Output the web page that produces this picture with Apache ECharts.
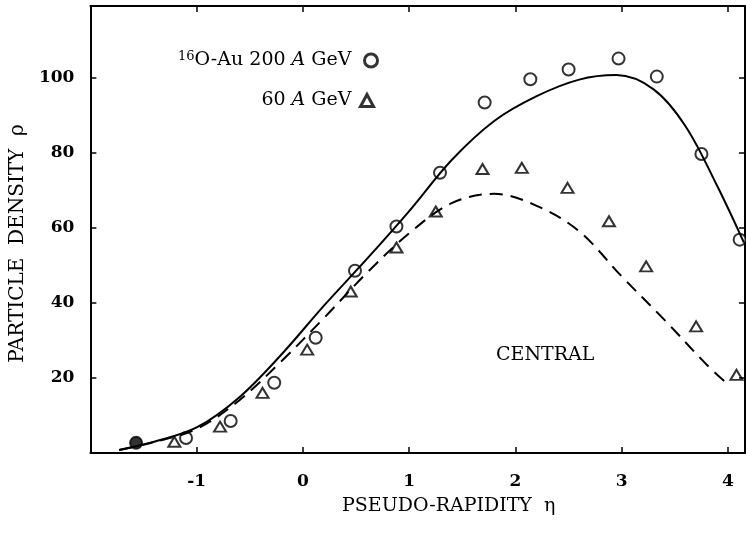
<!DOCTYPE html>
<html>
<head>
    <meta charset="UTF-8">
    <title>Particle density vs pseudo-rapidity</title>
    <style>
        html, body { margin: 0; padding: 0; background: #fff; }
        #container { width: 746px; height: 539px; }
    </style>
</head>
<body>
    <div id="container"></div>
    <script src="https://cdn.jsdelivr.net/npm/echarts@6/dist/echarts.min.js"></script>
    <script>
        // 16O-Au 200 A GeV (circles)
        var pts200 = [
            [-1.57, 2.7], [-1.10, 4.0], [-0.68, 8.5], [-0.27, 18.7], [0.12, 30.7],
            [0.49, 48.5], [0.88, 60.3], [1.29, 74.6], [1.71, 93.3], [2.14, 99.5],
            [2.50, 102.1], [2.97, 105.0], [3.33, 100.2], [3.75, 79.6], [4.11, 56.8]
        ];
        // 60 A GeV (triangles)
        var pts60 = [
            [-1.21, 3.0], [-0.78, 7.0], [-0.38, 16.0], [0.04, 27.5], [0.45, 43.0],
            [0.88, 54.7], [1.25, 64.3], [1.69, 75.6], [2.06, 75.9], [2.49, 70.6],
            [2.88, 61.7], [3.23, 49.7], [3.70, 33.7], [4.08, 20.8]
        ];
        // fitted curves
        var curve200 = [
            [-1.73, 0.8], [-1.4, 3.0], [-1.0, 6.8], [-0.6, 14.8], [-0.2, 26.3],
            [0.2, 39.3], [0.6, 51.6], [1.0, 64.4], [1.4, 78.0], [1.8, 88.4],
            [2.2, 95.0], [2.6, 99.4], [2.95, 100.6], [3.3, 96.8], [3.6, 87.0],
            [3.9, 71.0], [4.15, 56.0]
        ];
        var curve60 = [
            [-1.73, 0.8], [-1.4, 2.9], [-1.0, 6.4], [-0.6, 14.0], [-0.2, 24.5],
            [0.2, 36.0], [0.6, 47.9], [1.0, 58.5], [1.4, 66.5], [1.8, 69.0],
            [2.2, 65.8], [2.6, 59.0], [3.0, 47.0], [3.4, 35.5], [3.8, 23.5],
            [3.99, 18.5]
        ];
        var name200 = '200';
        var name60 = '60';

        var serif = "'DejaVu Serif', 'Liberation Serif', serif";

        var myChart = echarts.init(document.getElementById('container'));

        var xBase = {
            type: 'value', min: -2, max: 4.16, interval: 1,
            axisLine: { onZero: false, lineStyle: { color: '#000', width: 2 } },
            axisTick: { inside: true, length: 6, lineStyle: { color: '#000', width: 1.5 } },
            splitLine: { show: false }
        };
        var yBase = {
            type: 'value', min: 0, max: 119, interval: 20,
            axisLine: { show: true, onZero: false, lineStyle: { color: '#000', width: 2 } },
            axisTick: { show: true, inside: true, length: 6, lineStyle: { color: '#000', width: 1.5 } },
            splitLine: { show: false }
        };

        myChart.setOption({
            animation: false,
            grid: { left: 88, right: 1, top: 6, bottom: 86 },
            xAxis: [
                Object.assign({}, xBase, {
                    position: 'bottom',
                    name: 'PSEUDO-RAPIDITY  η',
                    nameLocation: 'middle',
                    nameGap: 44,
                    nameTextStyle: { fontFamily: serif, fontSize: 19, color: '#000', padding: [0, 0, 0, 62] },
                    axisLabel: {
                        margin: 20, fontFamily: serif, fontSize: 17, fontWeight: 'bold', color: '#000',
                        showMinLabel: false, showMaxLabel: false
                    }
                }),
                Object.assign({}, xBase, { position: 'top', axisLabel: { show: false } })
            ],
            yAxis: [
                Object.assign({}, yBase, {
                    position: 'left',
                    name: 'PARTICLE  DENSITY  ρ',
                    nameLocation: 'middle',
                    nameGap: 56,
                    nameTextStyle: { fontFamily: serif, fontSize: 20, color: '#000', padding: [0, 28, 0, 0] },
                    axisLabel: {
                        margin: 16, fontFamily: serif, fontSize: 17, fontWeight: 'bold', color: '#000',
                        showMinLabel: false, showMaxLabel: false
                    }
                }),
                Object.assign({}, yBase, { position: 'right', axisLabel: { show: false } })
            ],
            legend: [
                {
                    data: [name200], right: 367, top: 50, padding: 0, align: 'right',
                    icon: 'circle', itemWidth: 13, itemHeight: 13,
                    itemStyle: { color: '#fff', borderColor: '#000', borderWidth: 3 },
                    formatter: function () { return '{sup|16}{n|O-Au 200 }{i|A}{n| GeV}'; },
                    textStyle: {
                        padding: [0, 8, 0, 0],
                        rich: {
                            sup: { fontFamily: serif, fontSize: 13, color: '#000', padding: [0, 0, 8, 0] },
                            n: { fontFamily: serif, fontSize: 19, color: '#000' },
                            i: { fontFamily: serif, fontSize: 19, color: '#000', fontStyle: 'italic' }
                        }
                    }
                },
                {
                    data: [name60], right: 371, top: 91, padding: 0, align: 'right',
                    icon: 'triangle', itemWidth: 13, itemHeight: 12,
                    itemStyle: { color: '#fff', borderColor: '#000', borderWidth: 3 },
                    formatter: function () { return '{n|60 }{i|A}{n| GeV}'; },
                    textStyle: {
                        padding: [0, 4, 0, 0],
                        rich: {
                            n: { fontFamily: serif, fontSize: 19, color: '#000' },
                            i: { fontFamily: serif, fontSize: 19, color: '#000', fontStyle: 'italic' }
                        }
                    }
                }
            ],
            graphic: [
                {
                    type: 'text', left: 496, top: 346,
                    style: { text: 'CENTRAL', fontFamily: serif, fontSize: 19, fill: '#000' }
                }
            ],
            series: [
                {
                    type: 'line', name: 'fit200', data: curve200, smooth: 0.35,
                    showSymbol: false, silent: true,
                    lineStyle: { color: '#000', width: 2 }
                },
                {
                    type: 'line', name: 'fit60', data: curve60, smooth: 0.35,
                    showSymbol: false, silent: true,
                    lineStyle: { color: '#000', width: 2, type: [13, 8] }
                },
                {
                    type: 'scatter', name: name200,
                    data: pts200.map(function (p, i) {
                        return i === 0 ? { value: p, itemStyle: { color: '#000' } } : p;
                    }),
                    symbol: 'circle', symbolSize: 12,
                    itemStyle: { color: '#fff', borderColor: '#000', borderWidth: 2 }
                },
                {
                    type: 'scatter', name: name60, data: pts60,
                    symbol: 'triangle', symbolSize: [12, 10],
                    itemStyle: { color: 'rgba(255,255,255,0)', borderColor: '#000', borderWidth: 2 }
                }
            ]
        });
    </script>
</body>
</html>
